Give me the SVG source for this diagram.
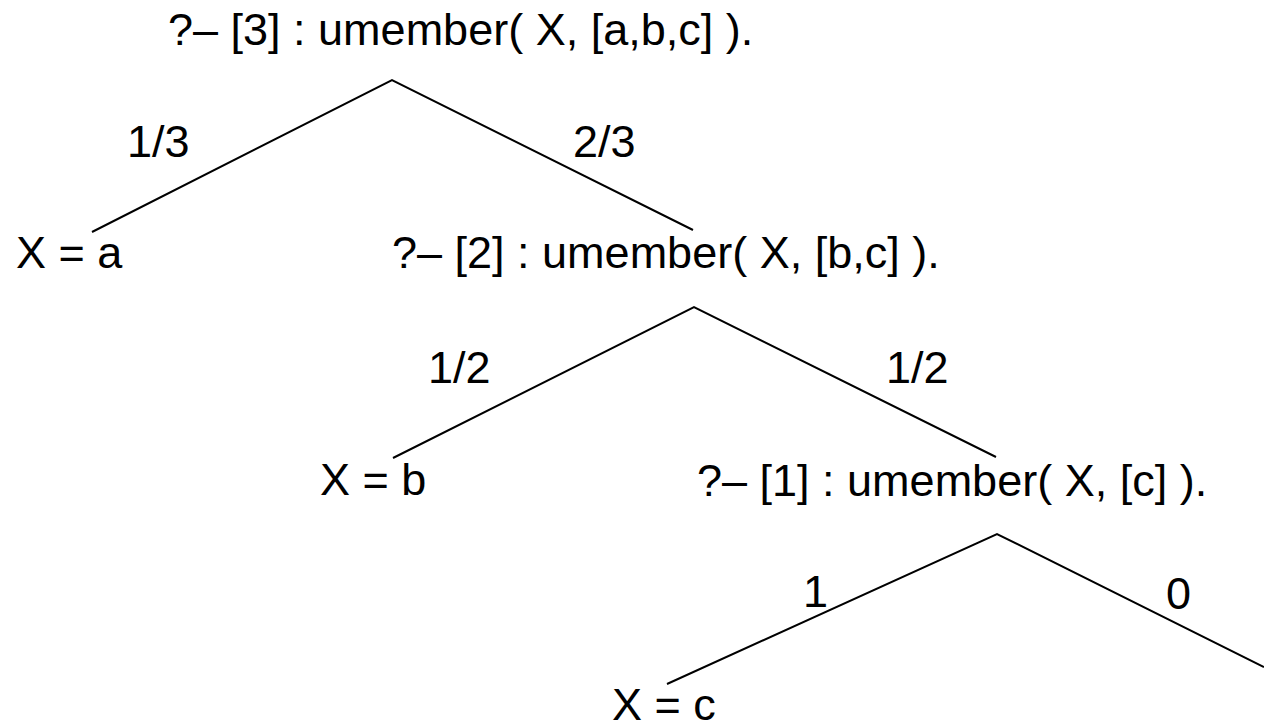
<svg xmlns="http://www.w3.org/2000/svg" width="1264" height="727" viewBox="0 0 1264 727">
<style>
text{font-family:"Liberation Sans",Arial,Helvetica,sans-serif;font-size:45px;fill:#000}
.edge{fill:none;stroke:#000;stroke-width:2;stroke-linejoin:miter}
</style>
<rect width="1264" height="727" fill="#fff"/>
<g id="connectors">
<polyline class="edge" points="92,232 392,80 693,230"/>
<polyline class="edge" points="393,458 694,307 996,457"/>
<polyline class="edge" points="667,684 997,534 1264,667"/>
</g>
<g id="labels">
<text x="127" y="157">1/3</text>
<text x="573" y="157">2/3</text>
<text x="428" y="383">1/2</text>
<text x="886" y="383">1/2</text>
<text x="803" y="607">1</text>
<text x="1166" y="609">0</text>
</g>
<g id="q3"><text x="168" y="45">?– [3] : umember( X, [a,b,c] ).</text></g>
<g id="xa"><text x="16" y="268">X = a</text></g>
<g id="q2"><text x="392" y="268">?– [2] : umember( X, [b,c] ).</text></g>
<g id="xb"><text x="320" y="495">X = b</text></g>
<g id="q1"><text x="697" y="496">?– [1] : umember( X, [c] ).</text></g>
<g id="xc"><text x="612" y="720">X = c</text></g>
</svg>
